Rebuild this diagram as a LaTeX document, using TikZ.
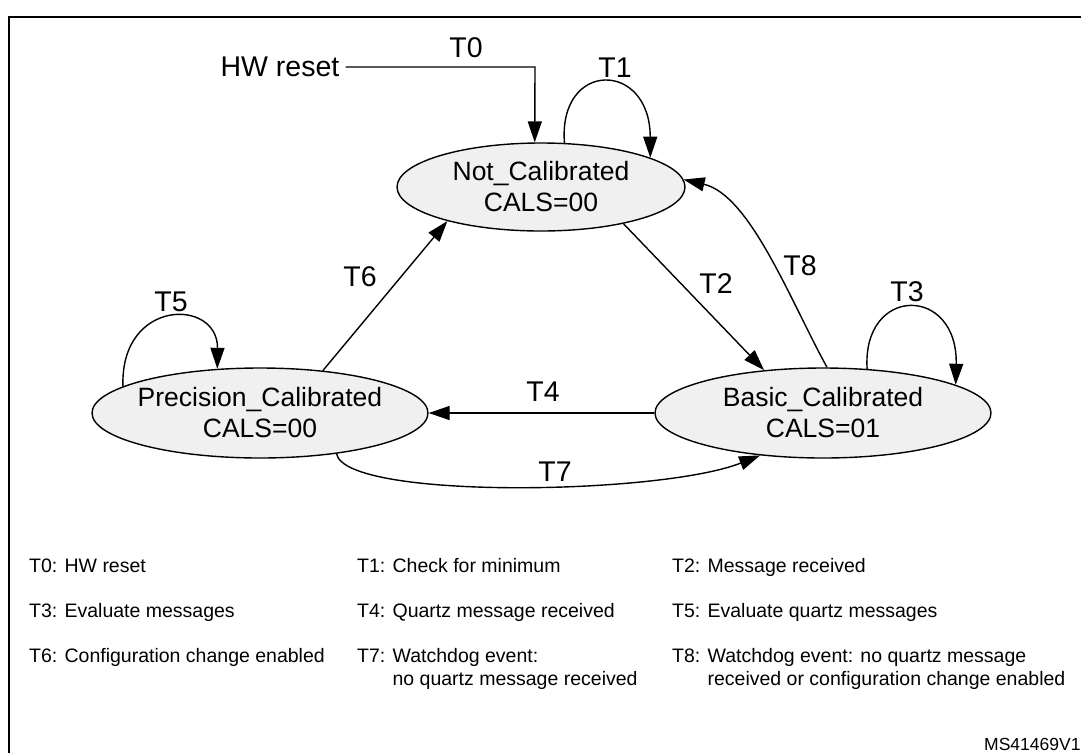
\documentclass[tikz,border=0pt]{standalone}
\usepackage{fontspec}
\setmainfont{Liberation Sans}
\usetikzlibrary{shapes.geometric,arrows.meta,calc}
\definecolor{stategray}{RGB}{240,240,240}
\begin{document}
\begin{tikzpicture}[x=1pt,y=-1pt,
  state/.style={ellipse,draw=black,line width=1.4pt,fill=stategray,inner sep=0pt},
  stext/.style={align=center,inner sep=0pt,font=\fontsize{26.5}{31}\selectfont},
  arr/.style={line width=1.4pt,-{Triangle[length=21pt,width=14pt]}},
  lbl/.style={font=\fontsize{28.5}{30}\selectfont,inner sep=0pt},
  leg/.style={font=\fontsize{19.5}{23}\selectfont,anchor=base west,inner sep=0pt}]
\useasboundingbox (0,0) rectangle (1081,753);
\fill[white] (0,0) rectangle (1081,753);
\draw[line width=2pt] (9,753) -- (9,17) -- (1081,17);

% states
\node[state,minimum width=288pt,minimum height=88pt] (nc) at (541,187) {};
\node[stext] (nct) at (nc.center) {Not\_Calibrated\\CALS=00};
\node[state,minimum width=336pt,minimum height=90pt] (pc) at (260,413) {};
\node[stext] (pct) at (pc.center) {Precision\_Calibrated\\CALS=00};
\node[state,minimum width=336pt,minimum height=90pt] (bc) at (823,413) {};
\node[stext] (bct) at (bc.center) {Basic\_Calibrated\\CALS=01};

% reset
\node[lbl,inner xsep=6pt] (hw) at (280,67) {HW reset};
\coordinate (t0c) at (535,67);
\draw[arr] (hw.east) -- (t0c) -- (nc.98);

% transitions
\draw[arr] (nc.62) .. controls (558,60) and (650,60) .. (nc.15);
\draw[arr] (nc.-24) -- (bc.144);
\draw[arr] (bc.45) .. controls (862,285) and (958,285) .. (bc.12);
\draw[arr] (bc.west) -- (pc.east);
\draw[arr] (pc.169) .. controls (120,298) and (218,298) .. (pc.134);
\draw[arr] (pc.34) -- (nc.-160);
\draw[arr] (pc.-28) .. controls (345,500) and (660,495) .. (bc.-146);
\draw[arr] (bc.85) .. controls (790,300) and (750,195) .. (nc.3);

% labels
\node[lbl] (l0) at (466,48) {T0};
\node[lbl] (l1) at (615,68) {T1};
\node[lbl] (l2) at (716,284) {T2};
\node[lbl] (l3) at (907,292) {T3};
\node[lbl] (l4) at (543,392) {T4};
\node[lbl] (l5) at (171,302) {T5};
\node[lbl] (l6) at (360,277) {T6};
\node[lbl] (l7) at (555,472) {T7};
\node[lbl] (l8) at (800,266) {T8};

% legend
\node[leg] (g0) at (29,572) {T0: HW reset};
\node[leg] (g1) at (357,572) {T1: Check for minimum};
\node[leg] (g2) at (672,572) {T2: Message received};
\node[leg] (g3) at (29,617) {T3: Evaluate messages};
\node[leg] (g4) at (357,617) {T4: Quartz message received};
\node[leg] (g5) at (672,617) {T5: Evaluate quartz messages};
\node[leg] (g6) at (29,662) {T6: Configuration change enabled};
\node[leg] (g7) at (357,662) {T7: Watchdog event:};
\node[leg] (g7b) at (357,685) {\hphantom{T7: }no quartz message received};
\node[leg] (g8) at (672,662) {T8: Watchdog event: no quartz message};
\node[leg] (g8b) at (672,685) {\hphantom{T8: }received or configuration change enabled};
\node[anchor=base west,inner sep=0pt,font=\fontsize{17.5}{20}\selectfont] (ms) at (984,750) {MS41469V1};
\end{tikzpicture}
\end{document}
